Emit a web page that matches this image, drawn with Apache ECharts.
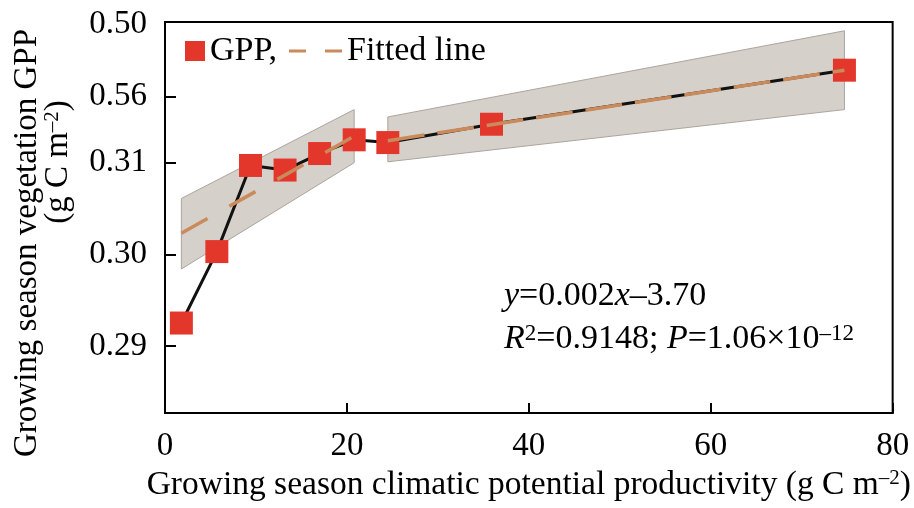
<!DOCTYPE html>
<html>
<head>
<meta charset="utf-8">
<script src="https://cdn.jsdelivr.net/npm/echarts@6/dist/echarts.min.js"></script>
<style>
  html, body { margin: 0; padding: 0; background: #fff; }
  #chart { width: 914px; height: 508px; }
</style>
</head>
<body>
<div id="chart"></div>
<script>
// GPP points (y read against the 0.29 / 0.30 / 0.31 ticks)
var gppX = [1.8, 5.7, 9.4, 13.2, 17.0, 20.8, 24.5, 35.9, 74.7];
var gppY = [0.2925, 0.3003, 0.3097, 0.3092, 0.3110, 0.3125, 0.3122, 0.3142, 0.3201];

// fitted lines and their confidence bands (two pieces)
var fitAX = [1.8, 20.8];
var fitAY = [0.3023, 0.3129];
var bandALow = [0.2984, 0.3100];
var bandAHigh = [0.3061, 0.3158];

var fitCX = [24.5, 74.7];
var fitCY = [0.3124, 0.3201];
var bandCLow = [0.3101, 0.3158];
var bandCHigh = [0.3150, 0.3244];

// y axis tick positions and the labels printed there
var yTickPos = [0.29, 0.30, 0.31, 0.3172, 0.3251];
var yTickText = ['0.29', '0.30', '0.31', '0.56', '0.50'];

var FONT = '"Liberation Serif", "Times New Roman", serif';
var RED = '#e3372c';
var ORANGE = '#c98a5c';

function pairs(xs, ys) {
  var out = [];
  for (var i = 0; i < xs.length; i++) out.push([xs[i], ys[i]]);
  return out;
}

var bandData = [
  [fitAX[0], fitAX[1], bandALow[0], bandAHigh[0], bandALow[1], bandAHigh[1]],
  [fitCX[0], fitCX[1], bandCLow[0], bandCHigh[0], bandCLow[1], bandCHigh[1]]
];

var supStyle = { fontSize: 21, fontFamily: FONT, color: '#000', verticalAlign: 'top' };
var supBig = { fontSize: 23, fontFamily: FONT, color: '#000', verticalAlign: 'top' };

var chart = echarts.init(document.getElementById('chart'));
var option = {
  animation: false,
  backgroundColor: '#fff',
  grid: {
    left: 165, top: 22, right: 19, bottom: 95,
    show: true, borderColor: '#000', borderWidth: 2
  },
  legend: [
    {
      data: [{ name: 'GPP,', icon: 'rect' }],
      left: 185, top: 34, padding: 0,
      itemWidth: 20, itemHeight: 20,
      textStyle: { fontSize: 34, fontFamily: FONT, color: '#000' }
    },
    {
      data: [{ name: 'Fitted line', icon: 'path://M0,0h17v3h-17z M36,0h17v3h-17z' }],
      left: 289, top: 34, padding: 0,
      itemWidth: 53, itemHeight: 3,
      textStyle: { fontSize: 34, fontFamily: FONT, color: '#000' }
    }
  ],
  xAxis: {
    type: 'value',
    min: 0, max: 80, interval: 20,
    name: 'Growing season climatic potential productivity (g C m{sup|–2})',
    nameLocation: 'middle',
    nameGap: 54,
    nameTextStyle: {
      fontSize: 33.5, fontFamily: FONT, color: '#000',
      rich: { sup: supStyle }
    },
    axisLine: { show: true, lineStyle: { color: '#000', width: 2 } },
    axisTick: { show: true, inside: true, length: 10, lineStyle: { color: '#000', width: 2 } },
    axisLabel: { fontSize: 33, fontFamily: FONT, color: '#000', margin: 17 },
    splitLine: { show: false }
  },
  yAxis: {
    type: 'value',
    min: 0.28268, max: 0.32536,
    axisLine: { show: true, lineStyle: { color: '#000', width: 2 } },
    axisTick: {
      show: true, inside: true, length: 11,
      customValues: yTickPos.slice(0, 4),
      lineStyle: { color: '#000', width: 2 }
    },
    axisLabel: {
      fontSize: 33, fontFamily: FONT, color: '#000', margin: 18,
      customValues: yTickPos,
      formatter: function (v) {
        for (var i = 0; i < yTickPos.length; i++) {
          if (Math.abs(v - yTickPos[i]) < 1e-6) return yTickText[i];
        }
        return '';
      }
    },
    splitLine: { show: false }
  },
  graphic: [
    {
      type: 'text', x: 27, y: 243, rotation: Math.PI / 2,
      style: {
        text: 'Growing season vegetation GPP',
        fontSize: 33, fontFamily: FONT, fill: '#000',
        align: 'center', verticalAlign: 'middle'
      }
    },
    {
      type: 'text', x: 58, y: 162, rotation: Math.PI / 2,
      style: {
        text: '(g C m{sup|–2})',
        fontSize: 33, fontFamily: FONT, fill: '#000',
        align: 'center', verticalAlign: 'middle',
        rich: { sup: supStyle }
      }
    },
    {
      type: 'text', x: 504, y: 296,
      style: {
        text: '{i|y}=0.002{i|x}–3.70',
        fontSize: 34, fontFamily: FONT, fill: '#000',
        verticalAlign: 'middle',
        rich: { i: { fontSize: 34, fontFamily: FONT, fontStyle: 'italic', color: '#000' } }
      }
    },
    {
      type: 'text', x: 504, y: 339,
      style: {
        text: '{i|R}{sup|2}=0.9148; {i|P}=1.06×10{sup|–12}',
        fontSize: 34, fontFamily: FONT, fill: '#000',
        verticalAlign: 'middle',
        rich: {
          i: { fontSize: 34, fontFamily: FONT, fontStyle: 'italic', color: '#000' },
          sup: supBig
        }
      }
    }
  ],
  series: [
    {
      type: 'custom',
      name: 'band',
      z: 1,
      data: bandData,
      encode: { x: [0, 1], y: [2, 3, 4, 5] },
      renderItem: function (params, api) {
        var x0 = api.value(0), x1 = api.value(1);
        var a = api.coord([x0, api.value(2)]);
        var b = api.coord([x1, api.value(4)]);
        var c = api.coord([x1, api.value(5)]);
        var d = api.coord([x0, api.value(3)]);
        return {
          type: 'polygon',
          shape: { points: [a, b, c, d] },
          style: { fill: '#d6d0ca', stroke: '#aca59e', lineWidth: 1 }
        };
      }
    },
    {
      type: 'line',
      name: 'GPP,',
      z: 2,
      data: pairs(gppX, gppY),
      symbol: 'rect',
      symbolSize: 23,
      itemStyle: { color: RED },
      lineStyle: { color: '#111', width: 3 }
    },
    {
      type: 'line',
      name: 'Fitted line',
      z: 3,
      data: pairs(fitAX, fitAY),
      symbol: 'none',
      itemStyle: { color: ORANGE },
      lineStyle: { color: ORANGE, width: 3.5, type: [30, 25] }
    },
    {
      type: 'line',
      name: 'Fitted line',
      z: 3,
      data: pairs(fitCX, fitCY),
      symbol: 'none',
      itemStyle: { color: ORANGE },
      lineStyle: { color: ORANGE, width: 3.5, type: [37, 13] }
    }
  ]
};
chart.setOption(option);
</script>
</body>
</html>
